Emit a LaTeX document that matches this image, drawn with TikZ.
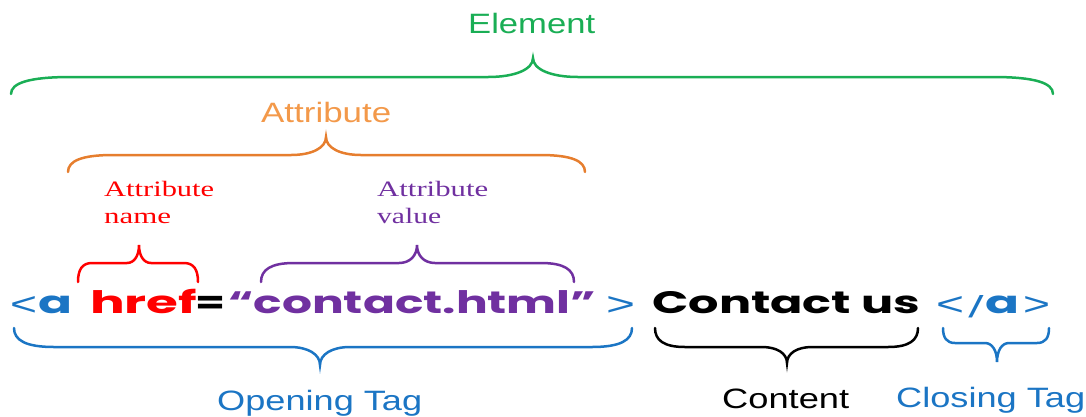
\documentclass[tikz,border=0pt]{standalone}
\usepackage{fontspec}
\usepackage{graphicx}
\usepackage{xcolor}
\usetikzlibrary{positioning}
\setmainfont{Liberation Serif}
\newfontfamily\labelfont{Liberation Sans}
\newfontfamily\codefont{Poppins}

\definecolor{elemgreen}{HTML}{1AAE55}
\definecolor{attrorange}{HTML}{E67E2E}
\definecolor{attrtext}{HTML}{F3994A}
\definecolor{namered}{HTML}{FF0000}
\definecolor{valpurple}{HTML}{7030A0}
\definecolor{tagblue}{HTML}{1B75C4}

% stretch a text to a given width, height unchanged
\newcommand{\wide}[2]{\resizebox{#1}{\height}{#2}}
% curly brace: [style]{x1}{x2}{y end}{y line}{x tip}{y tip}{corner}{half tip}
\newcommand{\curly}[9][]{%
  \draw[#1] (#2,#4) .. controls (#2,{#5+0.35*(#4-#5)}) and (#2+0.3*#8,#5) .. (#2+#8,#5)
    -- (#6-#9,#5) .. controls (#6-0.4*#9,#5) and (#6,{#5+0.4*(#7-#5)}) .. (#6,#7)
    .. controls (#6,{#5+0.4*(#7-#5)}) and (#6+0.4*#9,#5) .. (#6+#9,#5)
    -- (#3-#8,#5) .. controls (#3-0.3*#8,#5) and (#3,{#5+0.35*(#4-#5)}) .. (#3,#4);}

\tikzset{
  codebold/.style={inner sep=0pt, anchor=base west, font=\codefont\fontsize{31pt}{31pt}\selectfont\bfseries},
  codethin/.style={inner sep=0pt, anchor=base west, text=tagblue, font=\labelfont\fontsize{30pt}{30pt}\selectfont},
  tag/.style={inner sep=0pt, anchor=base west, font=\labelfont\fontsize{28pt}{28pt}\selectfont},
  note/.style={inner sep=0pt, anchor=base west, font=\fontsize{22pt}{22pt}\selectfont},
  brace/.style={line width=2.5pt, line cap=round}
}

\begin{document}
\begin{tikzpicture}[x=1pt,y=-1pt]
\useasboundingbox (0,0) rectangle (1086,416);

% the code line
\node[codethin] (lt) at (10,315) {\resizebox{27pt}{19pt}{<}};
\node[codebold, text=tagblue] (tagname) at (38,313) {\wide{34pt}{a}};
\node[codebold, text=namered] (href) at (90,313) {\wide{107pt}{href}};
\node[codebold] (eq) at (195,313) {\wide{30pt}{=}};
\node[codebold, text=valpurple] (val) at (228,313) {\wide{368pt}{“contact.html”}};
\node[codethin] (gt) at (606,315) {\resizebox{29pt}{19pt}{>}};
\node[codebold] (content) at (652,313) {\wide{268pt}{Contact us}};
\node[codethin] (clt) at (936,315) {\resizebox{28pt}{19pt}{<}};
\node[codethin, font=\codefont\fontsize{27pt}{27pt}\selectfont] (slash) at (966,314) {\resizebox{20pt}{19pt}{/}};
\node[codebold, text=tagblue] (ctagname) at (985,313) {\wide{34pt}{a}};
\node[codethin] (cgt) at (1023,315) {\resizebox{27pt}{19pt}{>}};

% braces
\curly[brace, elemgreen]{11}{1053}{94}{77}{533}{58}{60}{45}
\curly[brace, attrorange]{68}{585}{172}{155}{326}{137}{45}{35}
\curly[brace, namered]{78}{198}{282}{263}{139}{245}{14}{12}
\curly[brace, valpurple]{261}{574}{282}{263}{417}{245}{33}{18}
\curly[brace, tagblue]{14}{632}{328}{347}{320}{365}{40}{30}
\curly[brace]{655}{918}{328}{347}{787}{363}{30}{25}
\curly[brace, tagblue]{943}{1049}{328}{343}{997}{362}{12}{12}

% labels
\node[tag, text=elemgreen] (element) at (468,33) {\wide{127pt}{Element}};
\node[tag, text=attrtext] (attribute) at (261,122) {\wide{130pt}{Attribute}};
\node[note, text=namered] (nameone) at (104,196) {\wide{110pt}{Attribute}};
\node[note, text=namered] (nametwo) at (104,223) {\wide{67pt}{name}};
\node[note, text=valpurple] (valueone) at (377,196) {\wide{111pt}{Attribute}};
\node[note, text=valpurple] (valuetwo) at (377,223) {\wide{64pt}{value}};
\node[tag, text=tagblue] (opening) at (217,410) {\wide{205pt}{Opening Tag}};
\node[tag] (contentlbl) at (722,408) {\wide{127pt}{Content}};
\node[tag, text=tagblue] (closing) at (896,407) {\wide{189pt}{Closing Tag}};

\end{tikzpicture}
\end{document}
